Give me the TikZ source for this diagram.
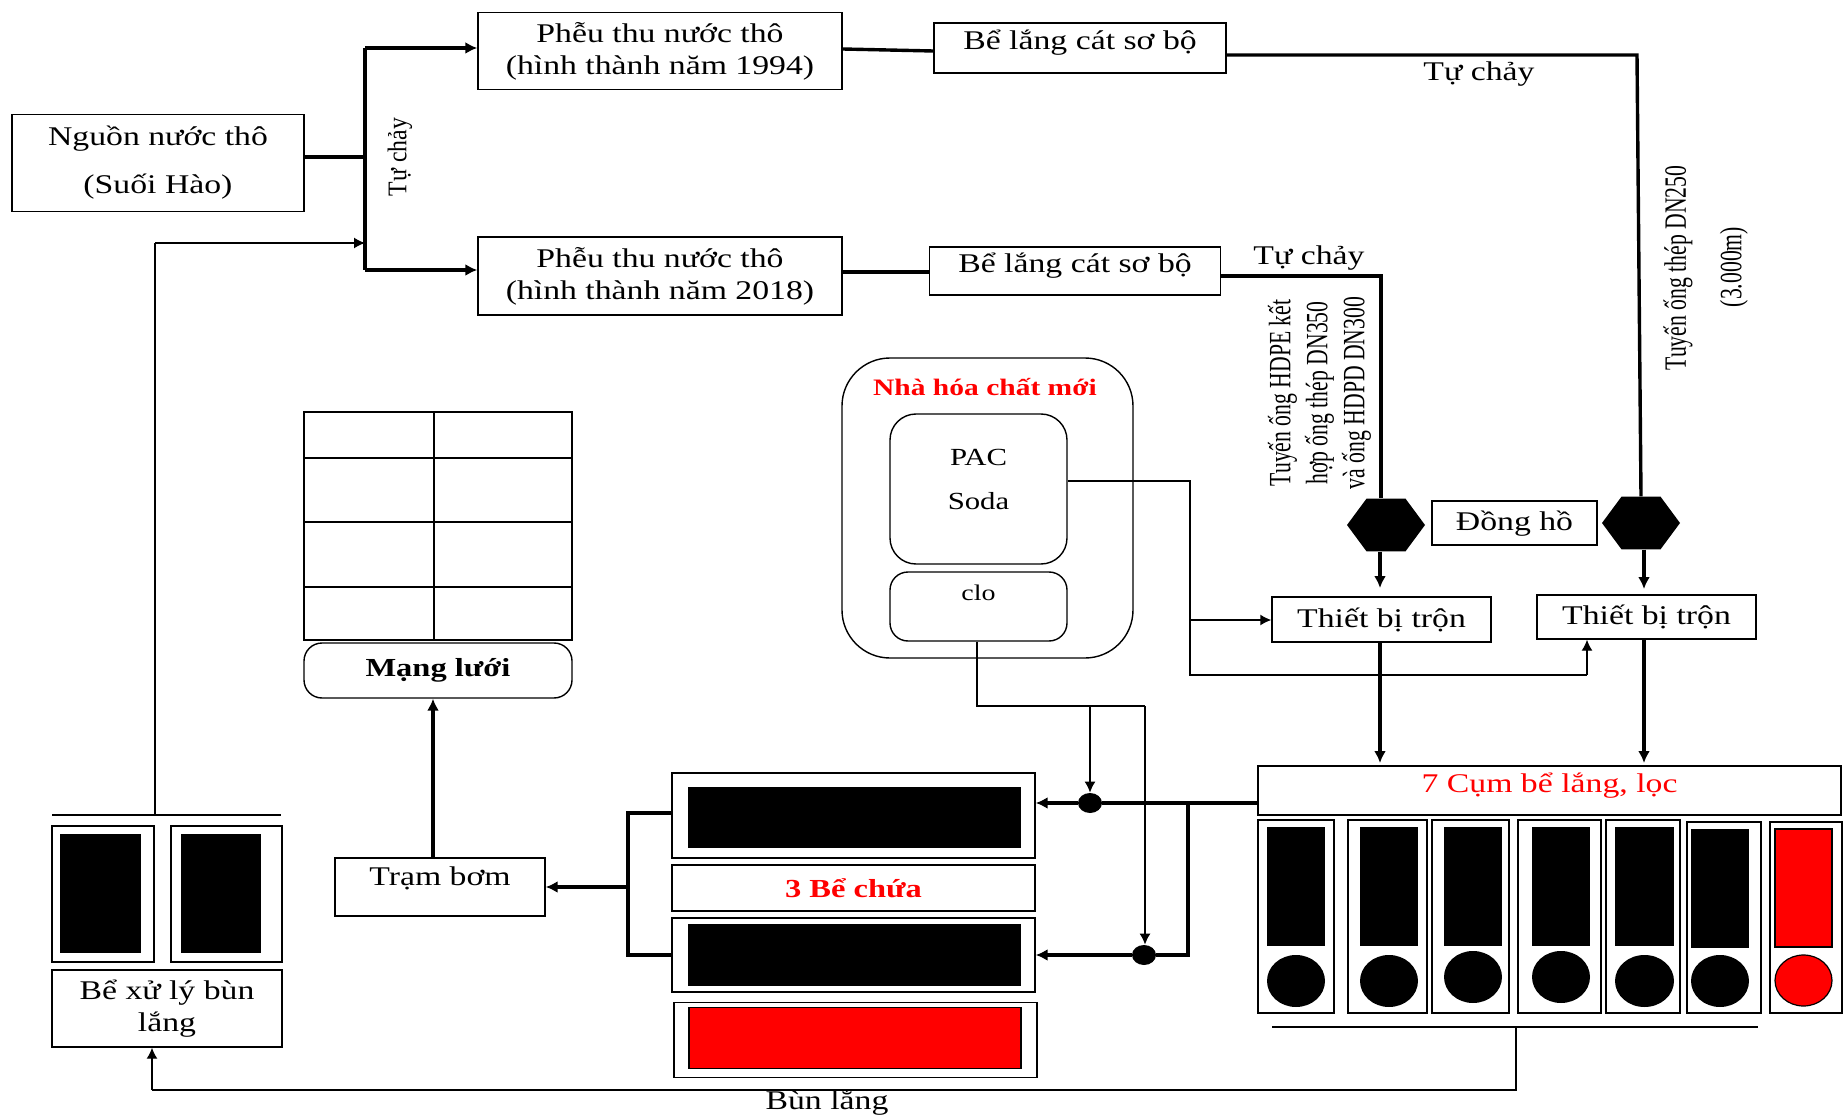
\documentclass[tikz,border=0pt]{standalone}
\usepackage{fontspec}
\setmainfont[FakeStretch=1.25]{Liberation Serif}
\newfontfamily\plainserif{Liberation Serif}
\usetikzlibrary{arrows.meta,shapes.geometric}

\tikzset{
  txt/.style={font=\fontsize{13.5}{16}\selectfont,align=center,inner sep=0pt},
  size/.style 2 args={minimum width=#1*0.5pt,minimum height=#2*0.5pt},
  box/.style={draw,line width=0.7pt,fill=white,txt},
  roundbox/.style={box,rounded corners=9pt},
  grid cell/.style={draw,line width=0.7pt,inner sep=0pt},
  solid block/.style={fill=black,inner sep=0pt},
  red block/.style={fill=red,draw=black,line width=0.6pt,inner sep=0pt},
  blob/.style={ellipse,fill=black,inner sep=0pt},
  meter/.style={regular polygon,regular polygon sides=6,fill=black,inner sep=0pt,minimum size=39pt,transform shape,yscale=0.78},
  joint/.style={ellipse,fill=black,inner sep=0pt,minimum width=12pt,minimum height=10pt},
  pipe/.style={line width=1.7pt},
  thin pipe/.style={line width=0.7pt},
  flow/.style={pipe,-{Latex[length=6pt,width=6pt]}},
  thin flow/.style={thin pipe,-{Latex[length=5.5pt,width=5.5pt]}},
}
% text at a set height in its box
\newcommand{\lift}[2]{\raisebox{#1}[0pt][0pt]{#2}}

\begin{document}
\begin{tikzpicture}[x=0.5pt,y=-0.5pt]
  \useasboundingbox (0,0) rectangle (1843,1118);

  % Source and intakes
  \node[box,size={292}{97}] (source) at (158,163) {Nguồn nước thô\\[8pt](Suối Hào)};
  \node[box,size={364}{77}] (intakeA) at (660,51) {Phễu thu nước thô\\(hình thành năm 1994)};
  \node[box,size={364}{78}] (intakeB) at (660,276) {Phễu thu nước thô\\(hình thành năm 2018)};
  \node[box,size={292}{50}] (sandA) at (1080,48) {\lift{-0.8pt}{Bể lắng cát sơ bộ}};
  \node[box,size={291}{48}] (sandB) at (1075,271) {\lift{-0.8pt}{Bể lắng cát sơ bộ}};

  % Trunk
  \coordinate (trunkA) at (365,48);
  \coordinate (trunkB) at (365,270);
  \coordinate (trunkR) at (365,243);
  \coordinate (trunkS) at (365,157);
  \draw[pipe] (trunkA) -- (trunkB);
  \draw[pipe] (source.east |- trunkS) -- (trunkS);
  \draw[flow] (trunkA) -- (intakeA.west |- trunkA);
  \draw[flow] (trunkB) -- (intakeB.west |- trunkB);
  \node[txt,rotate=90] (gravA) at (400,157) {\scalebox{0.88}[1]{\plainserif Tự chảy}};
  \draw[pipe] (intakeA.east |- 0,49) -- (sandA.west |- 0,51);
  \draw[pipe] (intakeB.east |- 0,272) -- (sandB.west |- 0,272);

  % Meters and mixers
  \node[meter] (meterA) at (1386,525) {};
  \node[meter] (meterB) at (1641,523) {};
  \node[box,size={165}{44}] (clock) at (1514.5,523) {\lift{-3.6pt}{Đồng hồ}};
  \node[box,size={219}{45}] (mixA) at (1381.5,619.5) {Thiết bị trộn};
  \node[box,size={219}{44}] (mixB) at (1646.5,617) {Thiết bị trộn};

  % Raw water lines
  \coordinate (bendA) at (1637,55);
  \coordinate (bendB) at (1381,276);
  \draw[pipe] (sandA.east |- bendA) -- (bendA) -- (meterB.north);
  \draw[pipe] (sandB.east |- bendB) -- (bendB) -- (bendB |- meterA.north);
  \node[txt] (gravB) at (1479,74) {Tự chảy};
  \node[txt] (gravC) at (1309,258) {Tự chảy};
  \node[txt,rotate=90] (routeB) at (1320,393) {\scalebox{0.70}[1]{\plainserif\fontsize{15.5}{18.5}\selectfont\begin{tabular}{@{}c@{}}Tuyến ống HDPE kết\\hợp ống thép DN350\\và ống HDPD DN300\end{tabular}}};
  \node[txt,rotate=90] (routeA) at (1678,268) {\scalebox{0.70}[1]{\plainserif\fontsize{15.5}{18.5}\selectfont Tuyến ống thép DN250}};
  \node[txt,rotate=90] (routeL) at (1734,267) {\scalebox{0.70}[1]{\plainserif\fontsize{15.5}{18.5}\selectfont (3.000m)}};
  \coordinate (meterAout) at (1380,588);
  \coordinate (meterBout) at (1644,589);
  \draw[flow] (meterAout |- meterA.south) -- (meterAout);
  \draw[flow] (meterBout |- meterB.south) -- (meterBout);

  % Chemical house
  \node[roundbox,rounded corners=24pt,size={291}{300}] (chem) at (987.5,508) {};
  \node[txt,text=red,font=\fontsize{11.8}{14}\selectfont\bfseries] (chemtitle) at (985,387) {Nhà hóa chất mới};
  \node[roundbox,rounded corners=13pt,size={177}{150},font=\fontsize{12.3}{15}\selectfont] (pac) at (978.5,489) {\lift{1pt}{\begin{tabular}{@{}c@{}}PAC\\[7pt]Soda\end{tabular}}};
  \node[roundbox,size={177}{69},font=\fontsize{11.2}{14}\selectfont] (clo) at (978.5,606.5) {\lift{3pt}{clo}};

  % Settling and filter units
  \node[box,size={583}{49},text=red,font=\fontsize{13.5}{16}\selectfont] (settle) at (1549.5,790.5) {\lift{-0.9pt}{7 Cụm bể lắng, lọc}};
  \node[box,size={76}{193}] (cellA) at (1296,916.5) {};
  \node[box,size={79}{193}] (cellB) at (1387.5,916.5) {};
  \node[box,size={77}{193}] (cellC) at (1470.5,916.5) {};
  \node[box,size={83}{193}] (cellD) at (1559.5,916.5) {};
  \node[box,size={74}{193}] (cellE) at (1643,916.5) {};
  \node[box,size={74}{191}] (cellF) at (1724,917.5) {};
  \node[box,size={72}{191}] (cellG) at (1806,917.5) {};
  \node[solid block,size={58}{119}] (blockA) at (1296,886.5) {};
  \node[solid block,size={58}{119}] (blockB) at (1389,886.5) {};
  \node[solid block,size={58}{119}] (blockC) at (1473,886.5) {};
  \node[solid block,size={58}{119}] (blockD) at (1561,886.5) {};
  \node[solid block,size={59}{119}] (blockE) at (1644.5,886.5) {};
  \node[solid block,size={58}{119}] (blockF) at (1720,888.5) {};
  \node[red block,size={57}{118}] (blockG) at (1803.5,888) {};
  \node[blob,size={58}{52}] (blobA) at (1296,981) {};
  \node[blob,size={58}{52}] (blobB) at (1389,981) {};
  \node[blob,size={58}{52}] (blobC) at (1473,977) {};
  \node[blob,size={58}{52}] (blobD) at (1561,977) {};
  \node[blob,size={59}{52}] (blobE) at (1644.5,981) {};
  \node[blob,size={58}{52}] (blobF) at (1720,981) {};
  \node[blob,fill=red,draw=black,line width=0.6pt,size={57}{51}] (blobG) at (1803.5,980.5) {};
  \draw[flow] (meterAout |- mixA.south) -- (meterAout |- 0,763);
  \draw[flow] (meterBout |- mixB.south) -- (meterBout |- 0,763);

  % Clear water tanks
  \node[box,size={363}{85}] (tankA) at (853.5,815.5) {};
  \node[solid block,size={333}{61}] (fillA) at (854.5,817.5) {};
  \node[box,size={363}{46},text=red,font=\fontsize{13}{16}\selectfont\bfseries] (tanks) at (853.5,888) {3 Bể chứa};
  \node[box,size={363}{74}] (tankB) at (853.5,955) {};
  \node[solid block,size={333}{62}] (fillB) at (854.5,955) {};
  \node[box,size={363}{75}] (tankC) at (855.5,1040) {};
  \node[red block,size={332}{61}] (fillC) at (855,1038) {};

  % Settled water to tanks
  \node[joint] (jointA) at (1090,803) {};
  \node[joint] (jointB) at (1144,955) {};
  \coordinate (splitA) at (1188,803);
  \coordinate (splitB) at (1188,955);
  \draw[pipe] (settle.west |- splitA) -- (jointA);
  \draw[flow] (jointA) -- (tankA.east |- jointA);
  \draw[pipe] (splitA) -- (splitB) -- (jointB);
  \draw[flow] (jointB) -- (tankB.east |- jointB);

  % Chemical dosing
  \coordinate (dosePAC) at (1190,481);
  \coordinate (doseMid) at (1190,620);
  \coordinate (doseLow) at (1190,675);
  \coordinate (doseUp) at (1587,675);
  \draw[thin pipe] (pac.east |- dosePAC) -- (dosePAC) -- (doseLow) -- (doseUp);
  \draw[thin flow] (doseMid) -- (mixA.west |- doseMid);
  \draw[thin flow] (doseUp) -- (doseUp |- mixB.south);
  \coordinate (cloBend) at (977,706);
  \coordinate (cloEnd) at (1145,706);
  \draw[thin pipe] (clo.south -| cloBend) -- (cloBend) -- (cloEnd);
  \draw[thin flow] (jointA |- cloBend) -- (jointA.north);
  \draw[thin flow] (cloEnd) -- (cloEnd |- jointB.north);

  % Pump and network
  \node[box,size={210}{58}] (pump) at (440,887) {\lift{1pt}{Trạm bơm}};
  \coordinate (collectA) at (628,813);
  \coordinate (collectB) at (628,955);
  \coordinate (collectM) at (628,887);
  \draw[pipe] (tankA.west |- collectA) -- (collectA) -- (collectB) -- (tankB.west |- collectB);
  \draw[flow] (collectM) -- (pump.east);
  \node[roundbox,size={268}{55},font=\fontsize{13}{16}\selectfont\bfseries] (network) at (438,670.5) {Mạng lưới};
  \coordinate (pumpUp) at (433,858);
  \draw[flow] (pumpUp) -- (pumpUp |- network.south);
  \node[grid cell,size={130}{46}] (gridA) at (369,435) {};
  \node[grid cell,size={138}{46}] (gridB) at (503,435) {};
  \node[grid cell,size={130}{64}] (gridC) at (369,490) {};
  \node[grid cell,size={138}{64}] (gridD) at (503,490) {};
  \node[grid cell,size={130}{65}] (gridE) at (369,554.5) {};
  \node[grid cell,size={138}{65}] (gridF) at (503,554.5) {};
  \node[grid cell,size={130}{53}] (gridG) at (369,613.5) {};
  \node[grid cell,size={138}{53}] (gridH) at (503,613.5) {};

  % Sludge treatment
  \node[box,size={102}{136}] (sludgeA) at (103,894) {};
  \node[box,size={111}{136}] (sludgeB) at (226.5,894) {};
  \node[solid block,size={81}{119}] (coreA) at (100.5,893.5) {};
  \node[solid block,size={80}{119}] (coreB) at (221,893.5) {};
  \node[box,size={230}{77}] (sludge) at (167,1008.5) {Bể xử lý bùn\\lắng};
  \coordinate (topL) at (52,815);
  \coordinate (topR) at (281,815);
  \coordinate (returnUp) at (155,815);
  \coordinate (returnTop) at (155,243);
  \draw[thin pipe] (topL) -- (topR);
  \draw[thin pipe] (returnUp) -- (returnTop);
  \draw[thin flow] (returnTop) -- (trunkR);

  % Sludge return
  \coordinate (drainL) at (1272,1027);
  \coordinate (drainR) at (1758,1027);
  \coordinate (drainU) at (1516,1027);
  \coordinate (drainD) at (1516,1090);
  \coordinate (drainE) at (152,1090);
  \draw[thin pipe] (drainL) -- (drainR);
  \draw[thin pipe] (drainU) -- (drainD) -- (drainE);
  \draw[thin flow] (drainE) -- (drainE |- sludge.south);
  \node[txt] (mud) at (827,1103) {Bùn lắng};
\end{tikzpicture}
\end{document}
